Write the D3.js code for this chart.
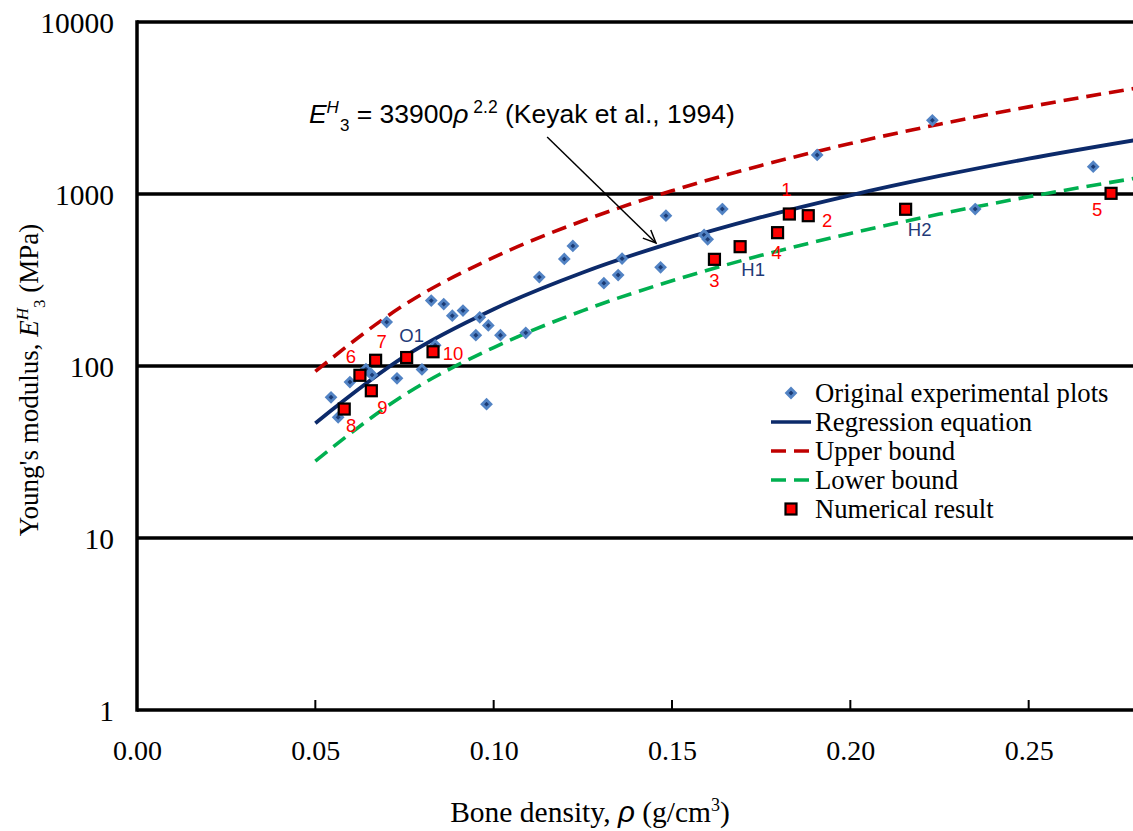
<!DOCTYPE html>
<html>
<head>
<meta charset="utf-8">
<script src="https://cdn.jsdelivr.net/npm/d3@7"></script>
<style>
  html, body { margin: 0; padding: 0; background: #ffffff; }
  svg { display: block; }
</style>
</head>
<body>
<div id="chart"></div>
<script>
// ---------------- DATA ----------------
const xTicks = [0.00, 0.05, 0.10, 0.15, 0.20, 0.25];
const xTickLabels = ["0.00", "0.05", "0.10", "0.15", "0.20", "0.25"];
const yTicks = [1, 10, 100, 1000, 10000];
const yTickLabels = ["1", "10", "100", "1000", "10000"];

// Curves read at these densities
const curveRho = [0.05, 0.075, 0.10, 0.125, 0.15, 0.175, 0.20, 0.225, 0.25, 0.28];
const regressionE = [46.5, 113.6, 214, 350, 522, 733, 983, 1273, 1606, 2060];
const upperE = [93, 227, 428, 699, 1044, 1465, 1966, 2546, 3211, 4120];
const lowerE = [28, 68, 128, 210, 313, 440, 590, 764, 964, 1236];

// Original experimental plots
const expRho = [0.0544, 0.0564, 0.0597, 0.0642, 0.0659, 0.0700, 0.0729, 0.0799, 0.0825, 0.0836,
                0.0860, 0.0884, 0.0914, 0.0950, 0.0961, 0.0980, 0.0985, 0.1019, 0.1090, 0.1128,
                0.1198, 0.1222, 0.1309, 0.1349, 0.1360, 0.1468, 0.1483, 0.1590, 0.1600, 0.1641,
                0.1907, 0.2230, 0.2350, 0.2681];
const expE   = [65.8, 50.3, 80.7, 96, 88.7, 180, 84.8, 95.5, 240, 132,
                229, 196, 210, 151, 192, 60, 172, 151, 156, 329,
                419, 499, 303, 338, 421, 375, 748, 578, 545, 818,
                1686, 2681, 818, 1442];

// Numerical results
const numLabels = ["1", "2", "3", "4", "H1", "H2", "5", "6", "7", "O1", "10", "9", "8"];
const numRho = [0.1829, 0.1882, 0.1619, 0.1796, 0.1691, 0.2155, 0.2731, 0.0625, 0.0669, 0.0756, 0.0830, 0.0657, 0.0581];
const numE   = [765, 748, 417, 596, 494, 815, 1009, 88.3, 108, 112, 121, 71.8, 56.2];

const legendItems = ["Original experimental plots", "Regression equation", "Upper bound", "Lower bound", "Numerical result"];

// Annotation anchor (data space)
const annotationAt = { rho: 0.0482, E: 2590 };
const arrowFrom = { rho: 0.1150, E: 2145 };
const arrowTo = { rho: 0.1455, E: 519 };

// ---------------- LAYOUT / STYLE ----------------
const W = 1133, H = 831;
const margin = { left: 137, top: 22, bottomY: 710 };
const plotRight = 137 + 0.28 * 3566.7;

const labelOffsets = {
  "1": [-3, -25], "2": [19, 5], "3": [0, 21], "4": [-1, 20],
  "H1": [13, 23], "H2": [14, 20], "5": [-14, 16], "6": [-9, -19],
  "7": [6, -19], "O1": [5, -22], "10": [20, 2], "9": [11, 17], "8": [7, 16]
};
const navyLabels = new Set(["H1", "H2", "O1"]);

const C = {
  regression: "#0c2a6a",
  upper: "#c00000",
  lower: "#00b050",
  diamondFill: "#1b3b74",
  diamondStroke: "#5283c4",
  square: "#ff0000",
  navyText: "#1f3a78",
  redText: "#ff0000"
};
const serif = "'Liberation Serif', 'Times New Roman', serif";
const sans = "'Liberation Sans', Arial, sans-serif";

const svg = d3.select("#chart").append("svg")
  .attr("width", W).attr("height", H)
  .style("background", "#fff");

const x = d3.scaleLinear().domain([0, 0.28]).range([margin.left, plotRight]);
const y = d3.scaleLog().domain([1, 10000]).range([margin.bottomY, margin.top]);

// gridlines (including top border at 10000)
svg.append("g").selectAll("line")
  .data(yTicks.filter(d => d > 1))
  .join("line")
  .attr("x1", margin.left).attr("x2", plotRight)
  .attr("y1", d => y(d)).attr("y2", d => y(d))
  .attr("stroke", "#000").attr("stroke-width", 3.5);

// x axis
const xAxis = d3.axisBottom(x).tickValues(xTicks).tickSize(0).tickFormat((d, i) => xTickLabels[i]);
const gx = svg.append("g").attr("transform", `translate(0,${margin.bottomY})`).call(xAxis);
gx.select(".domain").remove();
gx.selectAll("text")
  .attr("font-family", serif).attr("font-size", 28).attr("fill", "#000")
  .attr("dy", null).attr("y", 50);
// inward tick marks
svg.append("g").selectAll("line")
  .data(xTicks.slice(1))
  .join("line")
  .attr("x1", d => x(d)).attr("x2", d => x(d))
  .attr("y1", margin.bottomY - 10).attr("y2", margin.bottomY)
  .attr("stroke", "#000").attr("stroke-width", 2);

// y axis labels
const yAxis = d3.axisLeft(y).tickValues(yTicks).tickSize(0).tickFormat((d, i) => yTickLabels[i]);
const gy = svg.append("g").attr("transform", `translate(${margin.left},0)`).call(yAxis);
gy.select(".domain").remove();
gy.selectAll("text")
  .attr("font-family", serif).attr("font-size", 29.5).attr("fill", "#000")
  .attr("x", -23).attr("dy", "0.35em");

// axis lines
svg.append("line")
  .attr("x1", margin.left).attr("x2", plotRight)
  .attr("y1", margin.bottomY).attr("y2", margin.bottomY)
  .attr("stroke", "#000").attr("stroke-width", 3.5);
svg.append("line")
  .attr("x1", margin.left).attr("x2", margin.left)
  .attr("y1", margin.top - 1.75).attr("y2", margin.bottomY + 1.75)
  .attr("stroke", "#000").attr("stroke-width", 3.5);

// curves
const line = d3.line().x(d => x(d[0])).y(d => y(d[1])).curve(d3.curveMonotoneX);
const curves = [
  { vals: upperE, color: C.upper, dash: "15 8" },
  { vals: lowerE, color: C.lower, dash: "15 8" },
  { vals: regressionE, color: C.regression, dash: null }
];
svg.append("g").selectAll("path")
  .data(curves)
  .join("path")
  .attr("d", c => line(curveRho.map((r, i) => [r, c.vals[i]])))
  .attr("fill", "none")
  .attr("stroke", c => c.color)
  .attr("stroke-width", c => c.dash ? 3.6 : 3.8)
  .attr("stroke-dasharray", c => c.dash);

// diamonds
const diamond = r => `M0,${-r}L${r},0L0,${r}L${-r},0Z`;
svg.append("g").selectAll("path")
  .data(expRho.map((r, i) => [r, expE[i]]))
  .join("path")
  .attr("d", diamond(4.4))
  .attr("transform", d => `translate(${x(d[0])},${y(d[1])})`)
  .attr("fill", C.diamondFill)
  .attr("stroke", C.diamondStroke)
  .attr("stroke-width", 2.8);

// squares
const sq = 11;
svg.append("g").selectAll("rect")
  .data(numRho.map((r, i) => [r, numE[i]]))
  .join("rect")
  .attr("x", d => x(d[0]) - sq / 2).attr("y", d => y(d[1]) - sq / 2)
  .attr("width", sq).attr("height", sq)
  .attr("fill", C.square).attr("stroke", "#000").attr("stroke-width", 2.2);

// point labels
svg.append("g").selectAll("text")
  .data(numLabels.map((l, i) => ({ l, r: numRho[i], e: numE[i] })))
  .join("text")
  .attr("x", d => x(d.r) + labelOffsets[d.l][0])
  .attr("y", d => y(d.e) + labelOffsets[d.l][1])
  .attr("text-anchor", "middle").attr("dy", "0.36em")
  .attr("font-family", sans).attr("font-size", 18.5)
  .attr("fill", d => navyLabels.has(d.l) ? C.navyText : C.redText)
  .text(d => d.l);

// annotation
const ann = svg.append("text")
  .attr("x", x(annotationAt.rho)).attr("y", y(annotationAt.E))
  .attr("font-family", sans).attr("font-size", 26.5).attr("fill", "#000");
ann.append("tspan").attr("font-style", "italic").text("E");
ann.append("tspan").attr("font-style", "italic").attr("font-size", 17).attr("dy", -10).text("H");
ann.append("tspan").attr("font-size", 17).attr("dx", 1).attr("dy", 18).text("3");
ann.append("tspan").attr("dy", -8).text(" = 33900");
ann.append("tspan").attr("font-style", "italic").text("ρ");
ann.append("tspan").attr("font-size", 17.5).attr("dy", -10).text(" 2.2");
ann.append("tspan").attr("dy", 10).text(" (Keyak et al., 1994)");

// arrow
const ax1 = x(arrowFrom.rho), ay1 = y(arrowFrom.E), ax2 = x(arrowTo.rho), ay2 = y(arrowTo.E);
svg.append("line").attr("x1", ax1).attr("y1", ay1).attr("x2", ax2).attr("y2", ay2)
  .attr("stroke", "#000").attr("stroke-width", 1.5);
const ang = Math.atan2(ay2 - ay1, ax2 - ax1);
const hl = 14, ha = 0.42;
svg.append("path")
  .attr("d", `M${ax2 - hl * Math.cos(ang - ha)},${ay2 - hl * Math.sin(ang - ha)}L${ax2},${ay2}L${ax2 - hl * Math.cos(ang + ha)},${ay2 - hl * Math.sin(ang + ha)}`)
  .attr("fill", "none").attr("stroke", "#000").attr("stroke-width", 1.5);

// axis titles
const yt = svg.append("text")
  .attr("transform", "translate(38,380) rotate(-90)")
  .attr("text-anchor", "middle")
  .attr("font-family", serif).attr("font-size", 27).attr("fill", "#000");
yt.append("tspan").text("Young's modulus, ");
yt.append("tspan").attr("font-style", "italic").text("E");
yt.append("tspan").attr("font-style", "italic").attr("font-size", 17).attr("dy", -10).text("H");
yt.append("tspan").attr("font-size", 17).attr("dy", 17).text("3");
yt.append("tspan").attr("dy", -7).text(" (MPa)");

const xt = svg.append("text")
  .attr("x", 590).attr("y", 822)
  .attr("text-anchor", "middle")
  .attr("font-family", serif).attr("font-size", 29.5).attr("fill", "#000");
xt.append("tspan").text("Bone density, ");
xt.append("tspan").attr("font-family", sans).attr("font-style", "italic").text("ρ");
xt.append("tspan").text(" (g/cm");
xt.append("tspan").attr("font-size", 18).attr("dy", -11).text("3");
xt.append("tspan").attr("dy", 11).text(")");

// legend
const lg = svg.append("g");
const rowY = [393, 422, 451, 480, 509];
const lgMarkX = 791, lgLineX1 = 771, lgLineX2 = 811, lgTextX = 815;
legendItems.forEach((t, i) => {
  const cy = rowY[i];
  if (i === 0) {
    lg.append("path").attr("d", diamond(4.4)).attr("transform", `translate(${lgMarkX},${cy})`)
      .attr("fill", C.diamondFill).attr("stroke", C.diamondStroke).attr("stroke-width", 2.8);
  } else if (i === 4) {
    lg.append("rect").attr("x", lgMarkX - 5.5).attr("y", cy - 5.5).attr("width", 11).attr("height", 11)
      .attr("fill", C.square).attr("stroke", "#000").attr("stroke-width", 2.2);
  } else {
    const cc = [null, C.regression, C.upper, C.lower][i];
    lg.append("line").attr("x1", lgLineX1).attr("x2", lgLineX2).attr("y1", cy).attr("y2", cy)
      .attr("stroke", cc).attr("stroke-width", 3.6)
      .attr("stroke-dasharray", i === 1 ? null : "15 8");
  }
  lg.append("text").attr("x", lgTextX).attr("y", cy + 9)
    .attr("font-family", serif).attr("font-size", 26.7).attr("fill", "#000").text(t);
});
</script>
</body>
</html>
